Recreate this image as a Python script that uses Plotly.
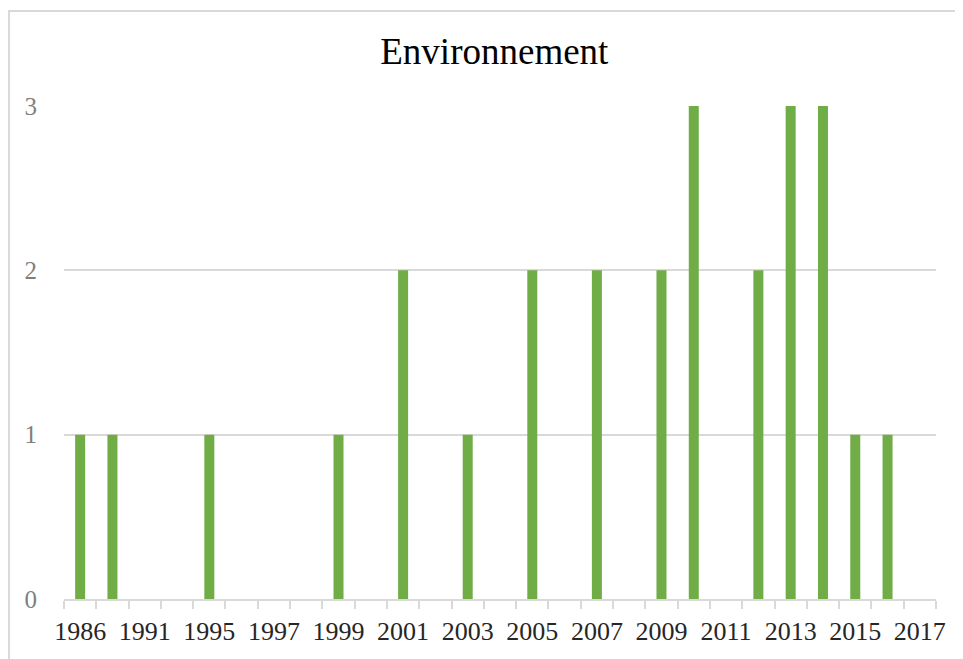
import plotly.graph_objects as go

years = ["1986", "1989", "1991", "1993", "1995", "1996", "1997", "1998", "1999",
         "2000", "2001", "2002", "2003", "2004", "2005", "2006", "2007", "2008",
         "2009", "2010", "2011", "2012", "2013", "2014", "2015", "2016", "2017"]
counts = [1, 1, 0, 0, 1, 0, 0, 0, 1,
          0, 2, 0, 1, 0, 2, 0, 2, 0,
          2, 3, 0, 2, 3, 3, 1, 1, 0]
shown_labels = [y if i % 2 == 0 else "" for i, y in enumerate(years)]
title_text = "Environnement"

serif = "Liberation Serif, Times New Roman, serif"

fig = go.Figure(go.Bar(x=years, y=counts, marker_color="#70AD47",
                       marker_line_width=0))

# page body has an 8px margin, so the figure is sized 955x651
fig.update_layout(
    width=955, height=651,
    paper_bgcolor="white", plot_bgcolor="white",
    margin=dict(l=56, r=27, t=98, b=60),
    bargap=0.69,
    showlegend=False,
    title=dict(text=title_text, x=0.4935, xanchor="center", y=0.934, yanchor="middle",
               xref="paper",
               font=dict(family=serif, size=37, color="#000000")),
    shapes=[dict(type="rect", xref="paper", yref="paper",
                 x0=-0.0630, x1=1.08, y0=-0.3, y1=1.1927,
                 line=dict(color="#D9D9D9", width=2), fillcolor="rgba(0,0,0,0)",
                 layer="below")],
)
fig.update_xaxes(
    type="category", categoryorder="array", categoryarray=years,
    tickmode="array", tickvals=years, ticktext=shown_labels,
    tickson="boundaries", ticks="outside", ticklen=8, tickwidth=1.5,
    tickcolor="#D9D9D9", showline=True, linecolor="#D9D9D9", linewidth=1.5,
    showgrid=False, range=[-0.5, 26.5], tickangle=0,
    ticklabelstandoff=8,
    tickfont=dict(family=serif, size=26, color="#262626"),
)
fig.update_yaxes(
    range=[0, 3], dtick=1, tick0=0, showgrid=True, gridcolor="#D9D9D9",
    gridwidth=1.5, zeroline=False, showline=False, ticks="",
    ticklabelstandoff=26,
    tickfont=dict(family=serif, size=25, color="#7F7F7F"),
)

fig.write_html("out.html")
